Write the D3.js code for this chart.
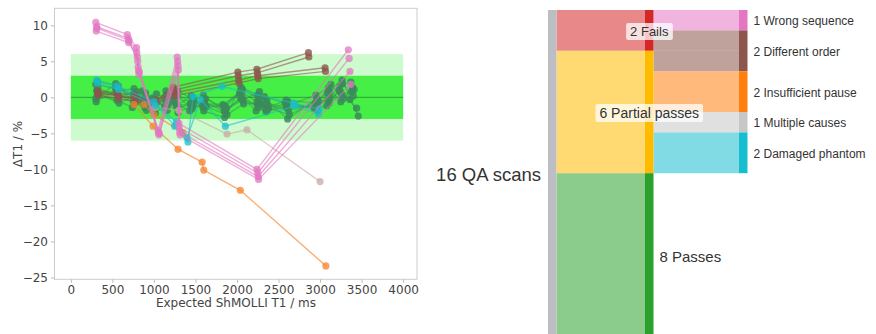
<!DOCTYPE html>
<html>
<head>
<meta charset="utf-8">
<script src="https://d3js.org/d3.v7.min.js"></script>
<style>
body { margin: 0; background: #fff; }
svg { display: block; }
</style>
</head>
<body>
<script>
// ---- left panel: each slice is a list of [expected ShMOLLI T1 (ms), deltaT1 (%)] per vial
const passScans = [
  [[300,1.8],[540,1.2],[750,0.4],[870,-0.6],[990,-1.2],[1140,-0.4],[1260,0.6],[1440,-0.8],[1590,-1.4],[1840,-1.2],[2040,0.9],[2240,-0.6],[2340,-1.6],[2590,-0.4],[2940,-0.8],[3090,0.6],[3240,1.6],[3370,2.1]],
  [[310,0.9],[560,0.4],[770,-0.8],[890,-1.4],[1010,-0.3],[1160,-1.8],[1280,0.2],[1460,-1.6],[1610,-0.6],[1860,-2.1],[2060,0.2],[2260,-1.4],[2360,-0.4],[2610,-3.0],[2960,-0.2],[3110,-0.8],[3260,0.4],[3380,0.8]],
  [[305,-0.6],[545,0.9],[760,1.2],[880,-0.2],[1000,-1.9],[1150,0.4],[1270,-1.2],[1450,0.2],[1600,-1.9],[1850,-2.8],[2050,1.4],[2250,0.3],[2350,-2.0],[2600,-1.2],[2950,0.3],[3100,1.3],[3250,-0.6],[3390,1.4]],
  [[320,2.2],[570,1.6],[780,-0.2],[900,0.6],[1020,-0.8],[1170,-1.0],[1290,-2.1],[1470,-1.1],[1620,-0.2],[1870,-1.6],[2070,-0.4],[2270,0.8],[2370,-1.1],[2620,-1.8],[2970,-1.0],[3120,0.0],[3270,1.9],[3400,0.2]],
  [[315,0.2],[555,-0.4],[740,-1.4],[860,0.9],[980,-0.1],[1130,-1.3],[1250,-0.6],[1430,-1.9],[1580,-0.9],[1830,-1.0],[2030,0.5],[2230,-1.9],[2330,0.1],[2580,-0.8],[2930,-1.5],[3080,-1.2],[3230,1.0],[3360,-0.3]],
  [[325,1.3],[575,0.1],[790,0.8],[910,-1.8],[1030,0.5],[1180,-0.2],[1300,-1.6],[1480,-0.4],[1630,-1.3],[1880,-2.4],[2080,-0.9],[2280,-0.9],[2380,-1.5],[2630,-2.4],[2980,-0.5],[3130,1.8],[3280,-0.2],[3410,1.1]],
  [[300,-0.2],[540,1.9],[755,-0.6],[875,-1.0],[995,-1.5],[1145,0.9],[1265,-0.9],[1445,-1.2],[1595,0.3],[1845,-1.9],[2045,-0.2],[2245,-1.1],[2345,-0.8],[2595,-1.4],[2945,-1.2],[3095,-0.4],[3245,0.8],[3440,-1.5]],
  [[330,0.6],[580,-0.8],[775,0.2],[895,-0.4],[1015,-2.2],[1165,-0.7],[1285,0.9],[1465,-0.2],[1615,-1.1],[1865,-1.3],[2065,1.1],[2265,-0.2],[2365,-1.8],[2615,-0.6],[2965,-1.8],[3115,0.9],[3265,2.4],[3460,-2.6]]
];
const wrongSequenceScans = [
  [[300,10.4],[680,8.7],[790,6.9],[810,4.2],[1050,-4.6],[1280,5.6],[1300,-3.6],[2240,-10.0],[3340,6.6]],
  [[310,9.8],[690,8.2],[795,6.2],[815,3.7],[1055,-4.9],[1285,5.0],[1305,-4.2],[2250,-10.5],[3350,5.4]],
  [[305,9.2],[695,7.6],[800,5.6],[820,3.2],[1060,-5.2],[1290,4.4],[1310,-4.8],[2255,-11.0],[3360,3.6]],
  [[315,9.6],[700,7.9],[805,5.0],[825,3.5],[1065,-5.0],[1295,3.8],[1315,-5.2],[2260,-11.4],[3370,1.8]]
];
const differentOrderScans = [
  [[320,0.9],[560,0.6],[770,0.3],[1010,-0.6],[1230,1.4],[2010,3.5],[2240,3.9],[2860,6.2]],
  [[325,0.5],[565,0.3],[775,-0.1],[1015,-0.9],[1235,1.0],[2015,3.0],[2245,3.4],[2865,5.6]],
  [[330,0.7],[570,0.2],[780,-0.3],[1020,-0.4],[1240,0.6],[2020,2.4],[2250,3.0],[3060,4.1]],
  [[335,0.3],[575,-0.2],[785,-0.6],[1025,-0.8],[1245,0.2],[2025,2.0],[2255,2.6],[3065,3.6]]
];
const insufficientPauseScans = [
  [[760,-1.0],[990,-4.0],[1290,-7.2],[1580,-9.0],[1600,-10.1],[2040,-12.9],[3070,-23.4]],
  [[880,-1.0],[1000,-2.4],[1350,-4.9]]
];
const multipleCausesScans = [
  [[1010,-1.4],[1300,-1.8],[1880,-5.1],[2120,-4.5],[3000,-11.7]]
];
const damagedPhantomScans = [
  [[310,2.4],[560,1.6],[1000,-0.6],[1250,-4.0],[1410,-6.2],[1470,0.1],[1820,1.5],[2680,-0.8],[2990,-1.6]],
  [[320,2.0],[570,1.1],[1020,-1.1],[1270,-3.4],[1400,-5.6],[1560,-0.3],[1860,-4.0],[2700,-1.2],[2980,-2.3]]
];
const xTicks = [0, 500, 1000, 1500, 2000, 2500, 3000, 3500, 4000];
const yTicks = [10, 5, 0, -5, -10, -15, -20, -25];
const bandT1 = [0, 4000];
const outerBand = [-6, 6];
const innerBand = [-3, 3];

// ---- right panel: sankey of QA outcomes
const sankeyNodes = ["16 QA scans", "2 Fails", "6 Partial passes", "8 Passes",
  "1 Wrong sequence", "2 Different order", "2 Insufficient pause", "1 Multiple causes", "2 Damaged phantom"];
const sankeyColumns = [0, 1, 1, 1, 2, 2, 2, 2, 2];
const sankeyLinks = [
  [0, 1, 2], [0, 2, 6], [0, 3, 8],
  [1, 4, 1], [1, 5, 1],
  [2, 5, 1], [2, 6, 2], [2, 7, 1], [2, 8, 2]
];

const W = 876, H = 334;
const svg = d3.select("body").append("svg").attr("width", W).attr("height", H);

// ===== left panel =====
const x = d3.scaleLinear().domain([-197, 4167]).range([54.5, 417]);
const y = d3.scaleLinear().domain([-25.26, 12.36]).range([279.3, 8.3]);
const plot = svg.append("g").attr("font-family", "DejaVu Sans, sans-serif");

plot.append("rect")
  .attr("x", x(bandT1[0])).attr("width", x(bandT1[1]) - x(bandT1[0]))
  .attr("y", y(outerBand[1])).attr("height", y(outerBand[0]) - y(outerBand[1]))
  .attr("fill", "#cdfbcd");
plot.append("rect")
  .attr("x", x(bandT1[0])).attr("width", x(bandT1[1]) - x(bandT1[0]))
  .attr("y", y(innerBand[1])).attr("height", y(innerBand[0]) - y(innerBand[1]))
  .attr("fill", "#45ef45");
plot.append("line")
  .attr("x1", x(bandT1[0])).attr("x2", x(bandT1[1]))
  .attr("y1", y(0)).attr("y2", y(0))
  .attr("stroke", "#2e9e36").attr("stroke-width", 1);

const line = d3.line().x(d => x(d[0])).y(d => y(d[1]));
const groups = [
  [passScans, "#3b8a5c", 0.45, 0.85],
  [differentOrderScans, "#8c564b", 0.6, 0.8],
  [multipleCausesScans, "#c9aaa5", 0.6, 0.75],
  [insufficientPauseScans, "#f5822a", 0.65, 0.75],
  [damagedPhantomScans, "#17becf", 0.6, 0.75],
  [wrongSequenceScans, "#e377c2", 0.6, 0.75]
];
groups.forEach(([scans, col, la, ma]) => {
  const g = plot.append("g");
  scans.forEach(s => {
    g.append("path").attr("d", line(s)).attr("fill", "none")
      .attr("stroke", col).attr("stroke-opacity", la).attr("stroke-width", 1.4);
    g.selectAll(null).data(s).enter().append("circle")
      .attr("cx", d => x(d[0])).attr("cy", d => y(d[1])).attr("r", 3.6)
      .attr("fill", col).attr("fill-opacity", ma);
  });
});

plot.append("rect")
  .attr("x", 54.5).attr("y", 8.3).attr("width", 417 - 54.5).attr("height", 279.3 - 8.3)
  .attr("fill", "none").attr("stroke", "#cccccc");

const xAxis = plot.append("g").attr("transform", "translate(0,279.3)")
  .call(d3.axisBottom(x).tickValues(xTicks).tickSize(3.5).tickPadding(3).tickFormat(d3.format("d")));
const yAxis = plot.append("g").attr("transform", "translate(54.5,0)")
  .call(d3.axisLeft(y).tickValues(yTicks).tickSize(3.5).tickPadding(3).tickFormat(d => d < 0 ? "\u2212" + Math.abs(d) : d));
[xAxis, yAxis].forEach(a => {
  a.select(".domain").remove();
  a.selectAll(".tick line").attr("stroke", "#bbbbbb");
  a.selectAll(".tick text").attr("fill", "#444").attr("font-size", 12)
    .attr("font-family", "DejaVu Sans, sans-serif");
});

plot.append("text").attr("x", 236).attr("y", 307).attr("text-anchor", "middle")
  .attr("font-size", 12).attr("fill", "#444").text("Expected ShMOLLI T1 / ms");
plot.append("text").attr("transform", "translate(22,144) rotate(-90)")
  .attr("text-anchor", "middle").attr("font-size", 12).attr("fill", "#444").text("\u0394T1 / %");

// ===== right panel: sankey =====
const nodeW = 8.5;
const colX = d3.scaleLinear().domain([0, 1, 2]).range([548, 645, 739]);
const vy = d3.scaleLinear().domain([0, 16]).range([10, 10 + 16 * 20.4]);
const nodeColor = ["#bdbdc4", "#d62728", "#ffbb00", "#2ca02c", "#e377c2", "#8c564b", "#ff7f0e", "#c7c7c7", "#17becf"];

const nodes = sankeyNodes.map((name, i) => ({ i, name, col: sankeyColumns[i] }));
const links = sankeyLinks.map(([s, t, v]) => ({ s, t, v }));
nodes.forEach(n => {
  n.value = Math.max(d3.sum(links.filter(l => l.s === n.i), l => l.v),
                     d3.sum(links.filter(l => l.t === n.i), l => l.v));
});
d3.group(nodes, n => n.col).forEach(list => {
  let acc = 0;
  list.forEach(n => { n.v0 = acc; acc += n.value; n.v1 = acc; n.out = n.v0; n.inn = n.v0; });
});
links.forEach(l => {
  const a = nodes[l.s], b = nodes[l.t];
  l.s0 = a.out; a.out += l.v;
  l.t0 = b.inn; b.inn += l.v;
});

const sk = svg.append("g").attr("font-family", "Liberation Sans, Arial, sans-serif");
function band(l) {
  const a = nodes[l.s], b = nodes[l.t];
  const x0 = colX(a.col) + nodeW, x1 = colX(b.col), xm = (x0 + x1) / 2;
  const ya0 = vy(l.s0), ya1 = vy(l.s0 + l.v), yb0 = vy(l.t0), yb1 = vy(l.t0 + l.v);
  return `M${x0},${ya0}C${xm},${ya0} ${xm},${yb0} ${x1},${yb0}L${x1},${yb1}C${xm},${yb1} ${xm},${ya1} ${x0},${ya1}Z`;
}
sk.selectAll("path.link").data(links).enter().append("path")
  .attr("d", band).attr("fill", l => nodeColor[l.t]).attr("fill-opacity", 0.55);
sk.selectAll("rect.node").data(nodes).enter().append("rect")
  .attr("x", n => colX(n.col)).attr("width", nodeW)
  .attr("y", n => vy(n.v0)).attr("height", n => vy(n.v1) - vy(n.v0))
  .attr("fill", n => nodeColor[n.i]);

const labelSize = [18.5, 13, 14, 15, 12, 12, 12, 12, 12];
nodes.forEach(n => {
  const cy = (vy(n.v0) + Math.min(vy(n.v1), H)) / 2;
  let tx, anchor;
  if (n.col === 0) { tx = colX(0) - 7; anchor = "end"; }
  else if (n.col === 2 || n.i === 3) { tx = colX(n.col) + nodeW + 6; anchor = "start"; }
  else { tx = colX(1) + nodeW / 2; anchor = "middle"; }
  const cyAdj = n.i === 0 ? 175 : (n.i === 3 ? 257 : cy + 1);
  const g = sk.append("g");
  const t = g.append("text").attr("x", tx).attr("y", cyAdj).attr("dy", "0.35em")
    .attr("text-anchor", anchor).attr("font-size", labelSize[n.i]).attr("fill", "#333").text(n.name);
  if (n.i === 1 || n.i === 2) {
    const bb = t.node().getBBox();
    g.insert("rect", "text").attr("x", bb.x - 4).attr("y", bb.y - 1)
      .attr("width", bb.width + 8).attr("height", bb.height + 2)
      .attr("rx", 2).attr("fill", "#fff").attr("fill-opacity", 0.75);
  }
});
</script>
</body>
</html>
